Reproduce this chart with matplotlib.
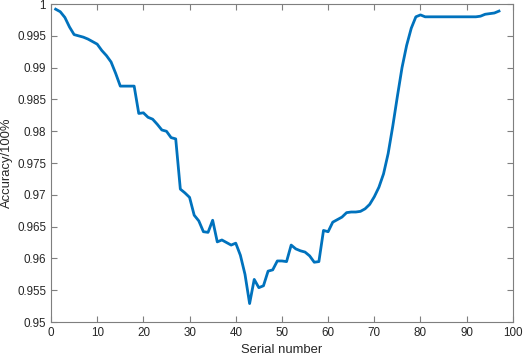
import matplotlib
matplotlib.use("Agg")
import matplotlib.pyplot as plt
import numpy as np

serial = list(range(1, 98))
accuracy = [
    0.9992, 0.9988, 0.9979, 0.9964, 0.9952, 0.9950, 0.9948, 0.9945, 0.9941, 0.9937,
    0.9927, 0.9919, 0.9909, 0.9891, 0.9871, 0.9871, 0.9871, 0.9871, 0.9828, 0.9829,
    0.9822, 0.9819, 0.9811, 0.9802, 0.9800, 0.9790, 0.9788, 0.9709, 0.9703, 0.9696,
    0.9668, 0.9659, 0.9642, 0.9641, 0.9660, 0.9626, 0.9629, 0.9625, 0.9621, 0.9624,
    0.9605, 0.9575, 0.9529, 0.9567, 0.9554, 0.9557, 0.9580, 0.9582, 0.9596, 0.9596,
    0.9595, 0.9621, 0.9615, 0.9612, 0.9610, 0.9604, 0.9594, 0.9595, 0.9644, 0.9642,
    0.9657, 0.9661, 0.9665, 0.9672, 0.9673, 0.9673, 0.9674, 0.9678, 0.9685, 0.9697,
    0.9712, 0.9733, 0.9765, 0.9808, 0.9855, 0.9900, 0.9935, 0.9962, 0.9980, 0.9983,
    0.9980, 0.9980, 0.9980, 0.9980, 0.9980, 0.9980, 0.9980, 0.9980, 0.9980, 0.9980,
    0.9980, 0.9980, 0.9981, 0.9984, 0.9985, 0.9986, 0.9989,
]
xticks = list(range(0, 101, 10))
yticks = [0.95, 0.955, 0.96, 0.965, 0.97, 0.975, 0.98, 0.985, 0.99, 0.995, 1.0]
yticklabels = ["0.95", "0.955", "0.96", "0.965", "0.97", "0.975", "0.98", "0.985", "0.99", "0.995", "1"]

plt.rcParams['font.family'] = ['Liberation Sans', 'DejaVu Sans']
fig = plt.figure(figsize=(5.26, 3.56), dpi=100)
ax = fig.add_axes([0.097, 0.0955, 0.878, 0.893])
ax.plot(serial, accuracy, color='#0072BD', lw=2.0)
ax.set_xlim(0, 100)
ax.set_ylim(0.95, 1.0)
ax.set_xticks(xticks)
ax.set_yticks(yticks)
ax.set_yticklabels(yticklabels)
ax.tick_params(direction='in', top=True, right=True, length=4, width=0.8,
               color='#7f7f7f', labelcolor='#262626', labelsize=8.4, pad=3.6)
for s in ax.spines.values():
    s.set_color('#7f7f7f')
    s.set_linewidth(0.8)
ax.set_xlabel('Serial number', fontsize=9.4, color='#262626')
ax.set_ylabel('Accuracy/100%', fontsize=9.4, color='#262626')
ax.xaxis.label.set_va('center')
ax.yaxis.label.set_va('center')
ax.xaxis.set_label_coords(0.5, -0.088)
ax.yaxis.set_label_coords(-0.095, 0.5)
fig.savefig('out.png', dpi=100)
